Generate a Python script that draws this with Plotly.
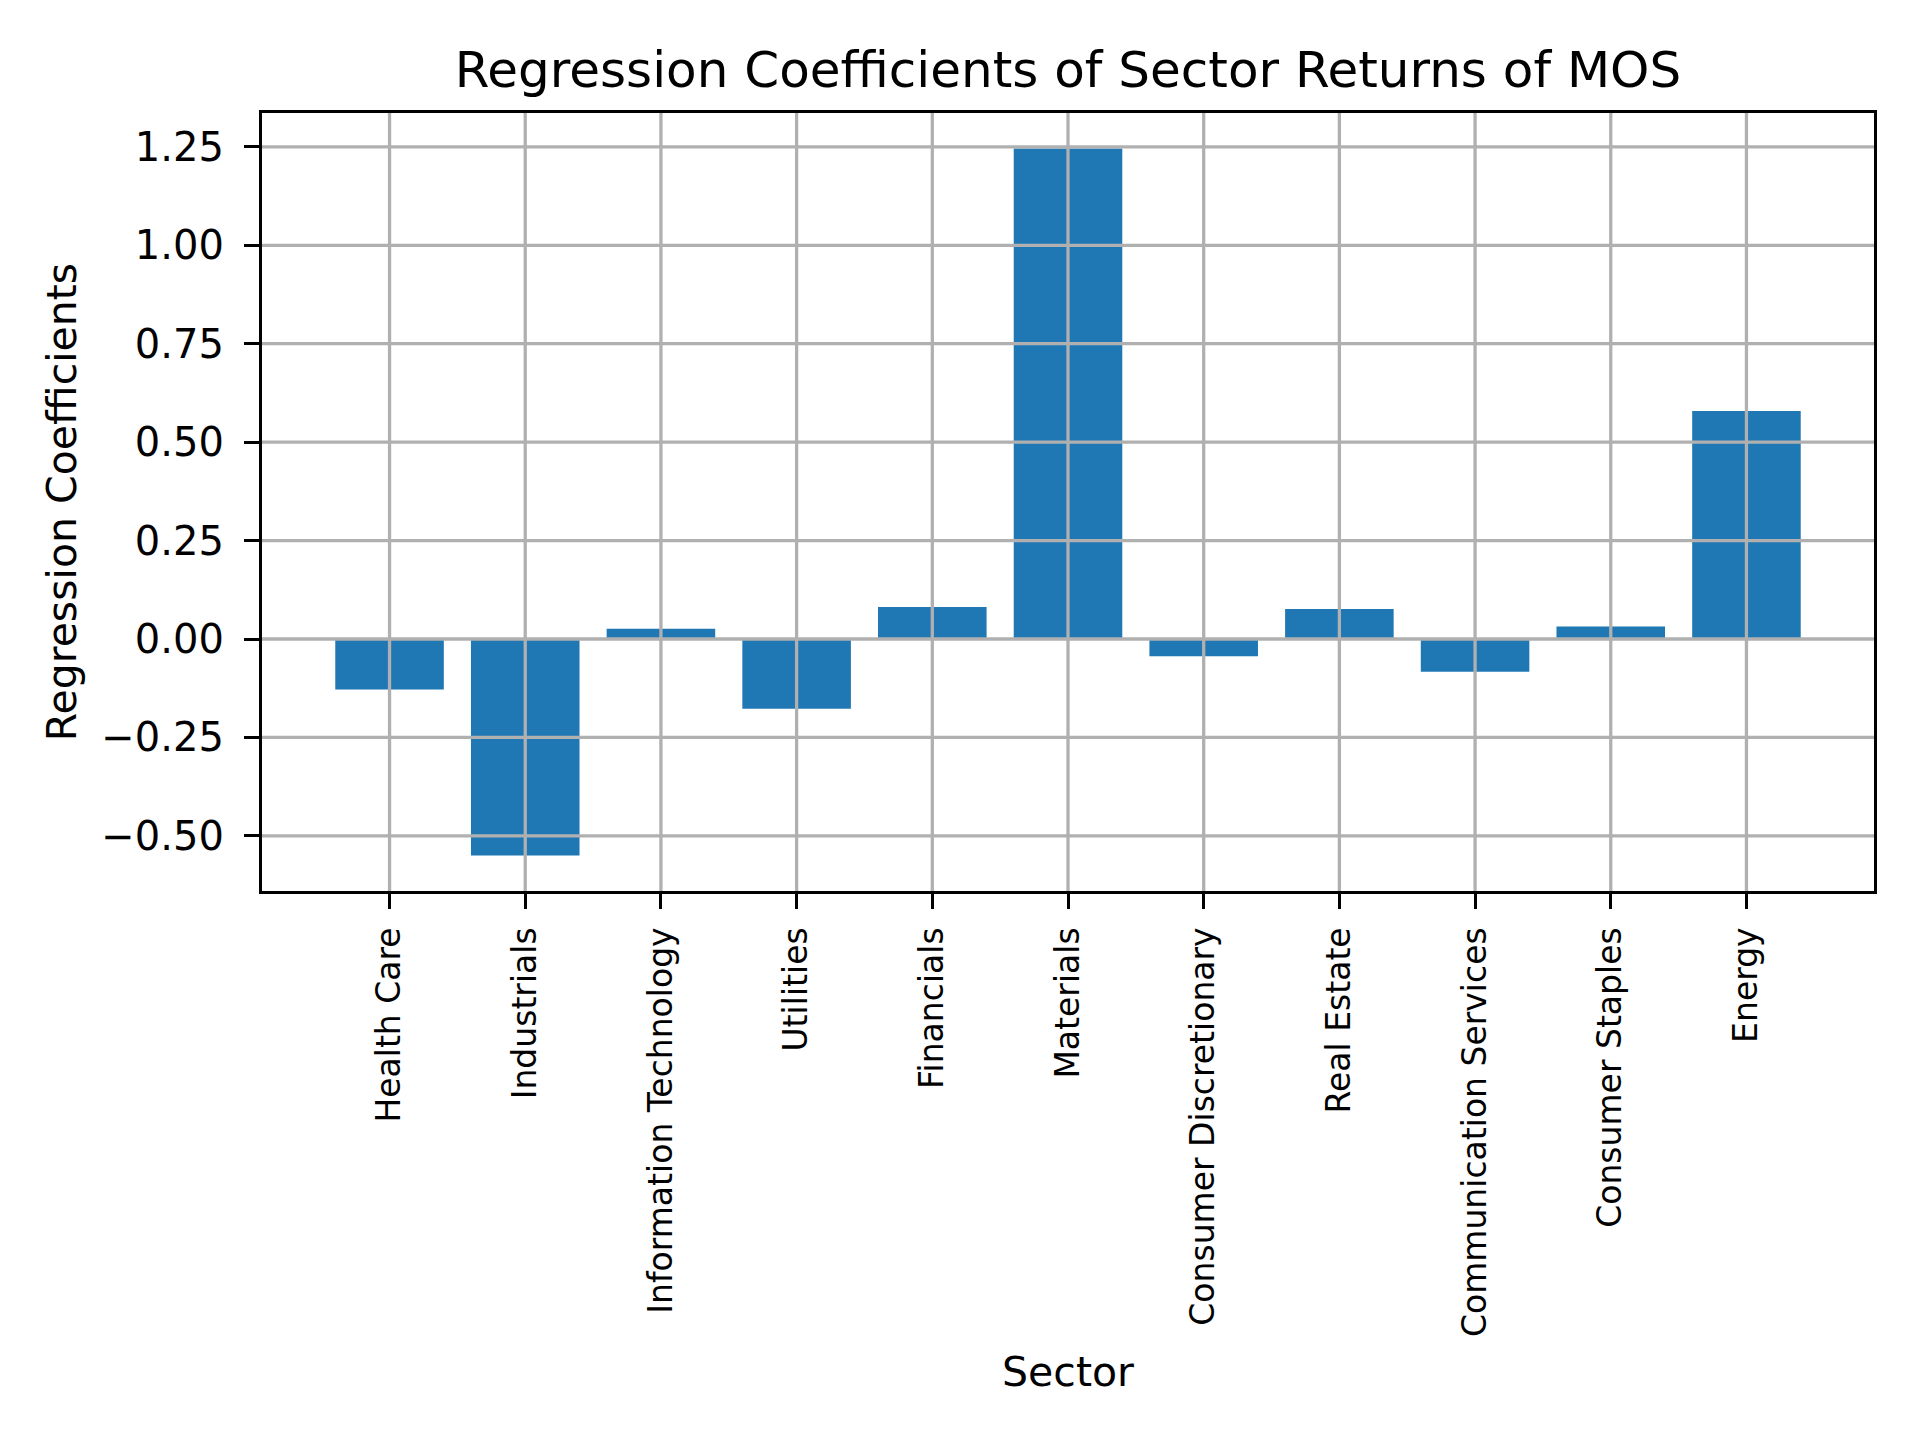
import plotly.graph_objects as go

sectors = ["Health Care", "Industrials", "Information Technology", "Utilities",
           "Financials", "Materials", "Consumer Discretionary", "Real Estate",
           "Communication Services", "Consumer Staples", "Energy"]
coefficients = [-0.128, -0.550, 0.026, -0.177, 0.081, 1.246, -0.044, 0.076,
                -0.083, 0.032, 0.579]
y_ticks = [-0.50, -0.25, 0.00, 0.25, 0.50, 0.75, 1.00, 1.25]
y_tick_labels = ["\u22120.50", "\u22120.25", "0.00", "0.25", "0.50", "0.75", "1.00", "1.25"]

FONT = "DejaVu Sans"
GRID = "#b0b0b0"
LW = 3.3

L, R, T, B = 254, 54, 105, 557

idx = list(range(len(sectors)))
fig = go.Figure()
fig.add_trace(go.Bar(x=idx, y=coefficients, width=0.8,
                     marker=dict(color="#1f77b4", line=dict(width=0))))

shapes = []
for v in y_ticks:
    shapes.append(dict(type="line", xref="paper", yref="y", x0=0, x1=1, y0=v, y1=v,
                       line=dict(color=GRID, width=LW), layer="above"))
for i in idx:
    shapes.append(dict(type="line", xref="x", yref="paper", x0=i, x1=i, y0=0, y1=1,
                       line=dict(color=GRID, width=LW), layer="above"))

fig.update_layout(
    width=1920, height=1440,
    margin=dict(l=L, r=R, t=T, b=B, pad=0),
    paper_bgcolor="white", plot_bgcolor="white",
    showlegend=False,
    shapes=shapes,
    font=dict(family=FONT, color="black"),
    title=dict(text="Regression Coefficients of Sector Returns of MOS",
               x=(L + 1920 - R) / 2 / 1920, xanchor="center",
               y=1 - 61 / 1440, yanchor="middle",
               font=dict(size=50, family=FONT, color="black")),
    xaxis=dict(
        range=[-0.94, 10.94], tickmode="array", tickvals=idx, ticktext=sectors,
        tickangle=-90, tickfont=dict(size=33, family=FONT, color="black"),
        showgrid=False, zeroline=False,
        showline=True, linecolor="black", linewidth=LW, mirror=True,
        ticks="outside", ticklen=15, tickwidth=LW, tickcolor="black",
        ticklabelstandoff=5,
        title=dict(text="Sector", font=dict(size=41, family=FONT, color="black"),
                   standoff=22),
    ),
    yaxis=dict(
        range=[-0.640, 1.336], tickmode="array", tickvals=y_ticks, ticktext=y_tick_labels,
        tickfont=dict(size=40, family=FONT, color="black"),
        showgrid=False, zeroline=False,
        showline=True, linecolor="black", linewidth=LW, mirror=True,
        ticks="outside", ticklen=15, tickwidth=LW, tickcolor="black",
        ticklabelstandoff=12,
        title=dict(text="Regression Coefficients", font=dict(size=41, family=FONT, color="black"),
                   standoff=12),
    ),
)

fig.write_html("out.html")
